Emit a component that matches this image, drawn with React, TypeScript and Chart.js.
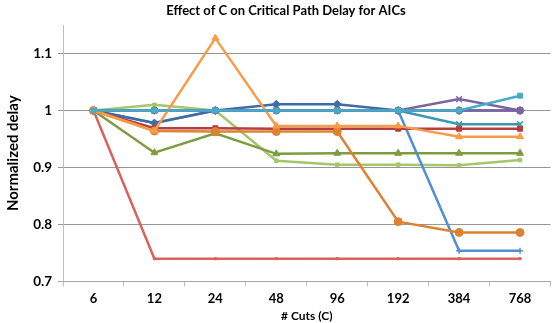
import React, { useEffect, useRef } from "react";
import { Chart, registerables } from "chart.js";

Chart.register(...registerables);

const categories = ["6", "12", "24", "48", "96", "192", "384", "768"];

const aquaSquare = [1, 1, 1, 1, 1, 1, 1, 1.026];
const orangeTriangle = [1, 0.964, 1.127, 0.973, 0.973, 0.973, 0.954, 0.954];
const darkOrangeCircle = [1, 0.964, 0.963, 0.963, 0.963, 0.805, 0.786, 0.786];
const darkRedSquare = [1, 0.969, 0.969, 0.968, 0.968, 0.968, 0.968, 0.968];
const purpleCross = [1, 1, 1, 1, 1, 1, 1.02, 1];
const tealCross = [1, 1, 1, 1, 1, 1, 0.976, 0.976];
const purpleCircle = [1, 1, 1, 1, 1, 1, 1, 1];
const darkBlueDiamond = [1, 0.978, 1, 1.011, 1.011, 1, 1, 1];
const bluePlus = [1, 0.978, 1, 1, 1, 1, 0.754, 0.754];
const greenTriangle = [1, 0.926, 0.96, 0.924, 0.925, 0.925, 0.925, 0.925];
const lightGreenSquare = [1, 1.01, 1, 0.912, 0.905, 0.905, 0.904, 0.913];
const redDash = [1, 0.74, 0.74, 0.74, 0.74, 0.74, 0.74, 0.74];

const yTicks = [0.7, 0.8, 0.9, 1.0, 1.1];

const FONT = "Lato, 'Open Sans', sans-serif";

function ds(data: number[], color: string, pointStyle: any, radius: number) {
  return {
    data,
    borderColor: color,
    backgroundColor: color,
    borderWidth: 2.5,
    pointStyle,
    pointRadius: radius,
    pointBorderWidth: pointStyle === "crossRot" || pointStyle === "cross" ? 1.5 : 1,
    pointBorderColor: color,
    pointBackgroundColor: color,
    tension: 0,
    fill: false,
  };
}

const titleShift = {
  id: "titleShift",
  afterLayout(chart: any) {
    const t = chart.titleBlock;
    if (t) t.left = t.left + 16;
  },
};

export default function App() {
  const ref = useRef<HTMLCanvasElement | null>(null);

  useEffect(() => {
    if (!ref.current) return;
    const chart = new Chart(ref.current, {
      type: "line",
      plugins: [titleShift],
      data: {
        labels: categories,
        datasets: [
          ds(aquaSquare, "#45ABC8", "rect", 3.5),
          ds(orangeTriangle, "#F89B4A", "triangle", 4),
          ds(darkOrangeCircle, "#DC8232", "circle", 4),
          ds(darkRedSquare, "#B3403C", "rect", 3.5),
          ds(purpleCross, "#7F63A1", "crossRot", 4),
          ds(tealCross, "#3A98B2", "crossRot", 4),
          ds(purpleCircle, "#7F63A1", "circle", 3.5),
          ds(darkBlueDiamond, "#3F6BA7", "rectRot", 4),
          ds(bluePlus, "#4F8FD3", "cross", 3),
          ds(greenTriangle, "#7D9C3F", "triangle", 4),
          ds(lightGreenSquare, "#A5C66B", "rect", 2.5),
          ds(redDash, "#D9625E", "rect", 1.5),
        ],
      },
      options: {
        responsive: false,
        animation: false,
        layout: { padding: 0 },
        plugins: {
          legend: { display: false },
          tooltip: { enabled: false },
          title: {
            display: true,
            text: "Effect of C on Critical Path Delay for AICs",
            color: "#000",
            font: { family: FONT, size: 13, weight: "bold" },
            padding: { top: 3.5, bottom: 5.9 },
          },
        },
        scales: {
          x: {
            type: "category",
            offset: true,
            grid: {
              offset: true,
              drawOnChartArea: false,
              drawTicks: true,
              tickLength: 5,
              color: "#BFBFBF",
            },
            border: { display: true, color: "#A6A6A6", width: 1 },
            ticks: {
              color: "#000",
              font: { family: FONT, size: 13, weight: "bold" },
              padding: 5,
              maxRotation: 0,
            },
            title: {
              display: true,
              text: "# Cuts (C)",
              color: "#000",
              font: { family: FONT, size: 12, weight: "bold" },
              padding: { top: 0, bottom: 0 },
            },
            afterFit: (s: any) => {
              s.height = 41.5;
            },
          },
          y: {
            type: "linear",
            min: 0.7,
            max: 1.15,
            afterBuildTicks: (s: any) => {
              s.ticks = yTicks.map((v) => ({ value: v }));
            },
            grid: {
              drawTicks: true,
              tickLength: 5,
              color: (c: any) => (c.tick && c.tick.value === 0.7 ? "#A6A6A6" : "#969696"),
            },
            border: { display: true, color: "#BFBFBF", width: 1 },
            ticks: {
              color: "#000",
              font: { family: FONT, size: 13.5, weight: "bold" },
              padding: 6,
              callback: (v: any) => String(Math.round(Number(v) * 10) / 10),
            },
            title: {
              display: true,
              text: "Normalized delay",
              color: "#000",
              font: { family: FONT, size: 15, weight: "bold" },
              padding: { top: 4, bottom: 0 },
            },
            afterFit: (s: any) => {
              s.width = 63;
            },
          },
        },
      },
    });
    return () => chart.destroy();
  }, []);

  return (
    <div style={{ position: "fixed", left: 0, top: 0, width: 556, height: 323, background: "#fff" }}>
      <canvas ref={ref} width={556} height={323} style={{ display: "block" }} />
    </div>
  );
}
